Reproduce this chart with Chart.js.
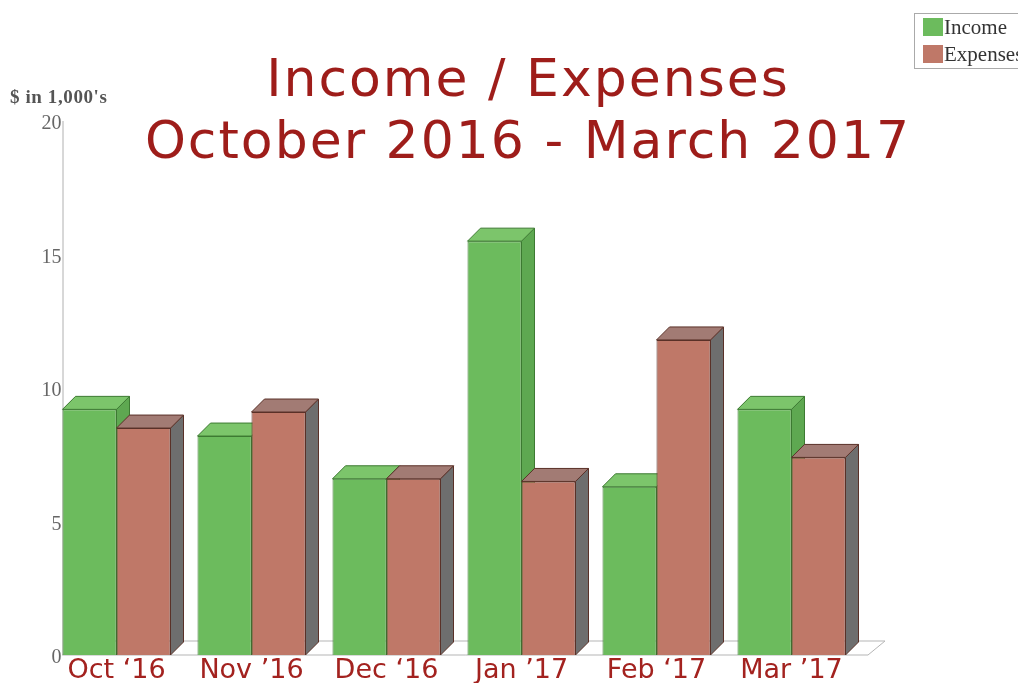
<!DOCTYPE html>
<html><head><meta charset="utf-8">
<script src="https://cdn.jsdelivr.net/npm/chart.js@4"></script>
<style>html,body{margin:0;padding:0;background:#fff}#wrap{width:1018px;height:683px}</style>
</head><body><div id="wrap"><canvas id="c" width="1018" height="683"></canvas></div>
<script>
const categories = ["Oct \u201816", "Nov \u201916", "Dec \u201816", "Jan \u201917", "Feb \u201817", "Mar \u201917"];
const income = [9.2, 8.2, 6.6, 15.5, 6.3, 9.2];
const expenses = [8.5, 9.1, 6.6, 6.5, 11.8, 7.4];
const yMin = 0, yMax = 20, yStep = 5;
const seriesNames = ["Income", "Expenses"];
const titleLines = ["Income / Expenses", "October 2016 - March 2017"];
const yAxisTitle = "$ in 1,000's";

const DEPTH = 13;
const faceColors = [
  {top: '#7cc56b', side: '#5ea851', line: '#3d7a32'},
  {top: '#a27b74', side: '#6e6e6e', line: '#5a3128'}
];
const TITLE_FONT = '"DejaVu Sans", sans-serif';

function poly(ctx, pts, fill, stroke) {
  ctx.beginPath();
  ctx.moveTo(pts[0][0], pts[0][1]);
  for (let i = 1; i < pts.length; i++) ctx.lineTo(pts[i][0], pts[i][1]);
  ctx.closePath();
  if (fill) { ctx.fillStyle = fill; ctx.fill(); }
  if (stroke) { ctx.strokeStyle = stroke; ctx.lineWidth = 1; ctx.stroke(); }
}

function firstBarLeft(chart) {
  const b = chart.getDatasetMeta(0).data[0];
  return b.x - b.width / 2;
}

function drawFaces(chart, index) {
  const ctx = chart.ctx;
  const fc = faceColors[index];
  ctx.save();
  chart.getDatasetMeta(index).data.forEach(bar => {
    const p = bar.getProps(['x', 'y', 'base', 'width'], true);
    const l = p.x - p.width / 2, r = p.x + p.width / 2, t = p.y, b = p.base;
    poly(ctx, [[r, t], [r + DEPTH, t - DEPTH], [r + DEPTH, b - DEPTH], [r, b]], fc.side, fc.line);
    poly(ctx, [[l, t], [l + DEPTH, t - DEPTH], [r + DEPTH, t - DEPTH], [r, t]], fc.top, fc.line);
  });
  ctx.restore();
}

const threeD = {
  id: 'threeD',
  beforeDatasetsDraw(chart) {
    const ctx = chart.ctx, ca = chart.chartArea;
    const ys = chart.scales.y;
    const base = ys.getPixelForValue(yMin);
    const top = ys.getPixelForValue(yMax);
    const x0 = firstBarLeft(chart);
    const x1 = ca.right + 9;
    ctx.save();
    poly(ctx, [[x0, base], [x1, base], [x1 + DEPTH + 4, base - DEPTH - 1], [x0 + DEPTH + 4, base - DEPTH - 1]], '#ffffff', '#b5b5b5');
    ctx.beginPath();
    ctx.moveTo(x0 + 0.5, top);
    ctx.lineTo(x0 + 0.5, base);
    ctx.strokeStyle = '#b0b0b0';
    ctx.lineWidth = 1;
    ctx.stroke();
    ctx.fillStyle = '#666';
    ctx.font = '20px "Liberation Serif", serif';
    ctx.textAlign = 'right';
    ctx.textBaseline = 'middle';
    ys.ticks.forEach(t => {
      ctx.fillText(String(t.value), x0 - 1, ys.getPixelForValue(t.value) + 3);
    });
    ctx.restore();
    drawFaces(chart, 0);
  },
  afterDatasetsDraw(chart) {
    drawFaces(chart, 1);
  },
  afterDraw(chart) {
    const ctx = chart.ctx;
    ctx.save();
    ctx.fillStyle = '#9e1d1a';
    ctx.textAlign = 'center';
    ctx.textBaseline = 'middle';
    ctx.font = '52px ' + TITLE_FONT;
    ctx.letterSpacing = '2px';
    ctx.fillText(titleLines[0], 528, 82);
    ctx.fillText(titleLines[1], 528, 144);
    ctx.letterSpacing = '0.6px';
    ctx.fillStyle = '#555';
    ctx.textAlign = 'left';
    ctx.font = 'bold 19px "Liberation Serif", serif';
    ctx.fillText(yAxisTitle, 10, 98);
    ctx.letterSpacing = '0px';
    ctx.strokeStyle = '#aaa';
    ctx.lineWidth = 1;
    ctx.strokeRect(914.5, 13.5, 120, 55);
    const cols = chart.data.datasets.map(d => d.backgroundColor);
    ctx.font = '21px "Liberation Serif", serif';
    seriesNames.forEach((n, i) => {
      const yy = 18 + i * 27;
      ctx.fillStyle = cols[i];
      ctx.fillRect(923, yy, 20, 18);
      ctx.fillStyle = '#333';
      ctx.fillText(n, 944, yy + 10);
    });
    ctx.restore();
  }
};

new Chart(document.getElementById('c'), {
  type: 'bar',
  data: {
    labels: categories,
    datasets: [
      {label: seriesNames[0], data: income, backgroundColor: '#6cbb5d', borderColor: '#3d7a32', borderWidth: 1},
      {label: seriesNames[1], data: expenses, backgroundColor: '#bf7868', borderColor: '#5a3128', borderWidth: 1}
    ]
  },
  options: {
    responsive: false,
    animation: false,
    devicePixelRatio: 1,
    layout: {padding: {top: 121, right: 159, bottom: 0, left: 0}},
    plugins: {legend: {display: false}, title: {display: false}, tooltip: {enabled: false}},
    datasets: {bar: {categoryPercentage: 0.8, barPercentage: 1.0}},
    scales: {
      x: {
        grid: {display: false, drawTicks: false},
        border: {display: false},
        ticks: {color: '#a3221f', font: {family: TITLE_FONT, size: 27}, padding: 0, maxRotation: 0, autoSkip: false},
        afterFit(s) { s.height = 28; }
      },
      y: {
        min: yMin, max: yMax,
        ticks: {stepSize: yStep, display: false},
        grid: {display: false, drawTicks: false},
        border: {display: false},
        afterFit(s) { s.width = 49; }
      }
    }
  },
  plugins: [threeD]
});
</script>
</body></html>
